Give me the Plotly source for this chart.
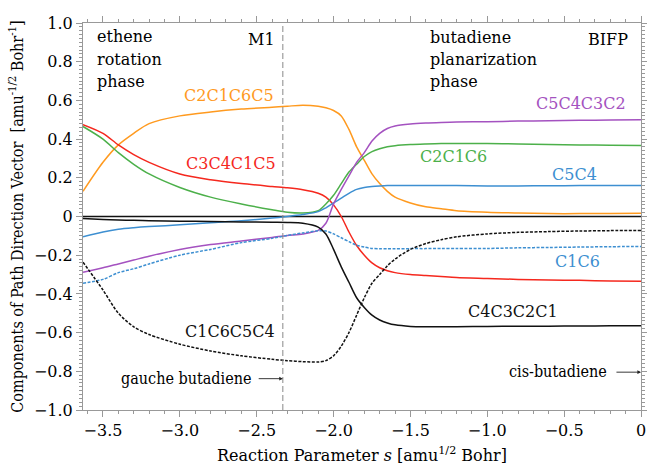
import plotly.graph_objects as go

# Reaction parameter grid (amu^1/2 Bohr)
s = [-3.63, -3.5, -3.4, -3.3, -3.2, -3.0, -2.8, -2.6, -2.4, -2.3, -2.2, -2.1, -2.05, -2.0,
     -1.95, -1.9, -1.85, -1.8, -1.75, -1.7, -1.65, -1.6, -1.5, -1.4, -1.3, -1.2, -1.0,
     -0.8, -0.6, -0.4, -0.2, 0.0]

c2c1c6c5 = [0.13, 0.28, 0.37, 0.43, 0.48, 0.52, 0.54, 0.555, 0.565, 0.57, 0.575, 0.57, 0.562, 0.548,
            0.52, 0.45, 0.36, 0.29, 0.22, 0.17, 0.13, 0.10, 0.07, 0.05, 0.04, 0.03, 0.022,
            0.018, 0.015, 0.015, 0.016, 0.017]
c3c4c1c5 = [0.475, 0.43, 0.37, 0.32, 0.28, 0.22, 0.19, 0.17, 0.155, 0.148, 0.138, 0.12, 0.10, 0.06,
            0.0, -0.08, -0.15, -0.20, -0.24, -0.265, -0.28, -0.29, -0.30, -0.305, -0.31, -0.315, -0.32,
            -0.325, -0.328, -0.33, -0.333, -0.335]
c2c1c6 = [0.465, 0.40, 0.33, 0.27, 0.22, 0.15, 0.10, 0.065, 0.035, 0.022, 0.018, 0.03, 0.065, 0.11,
          0.17, 0.23, 0.27, 0.31, 0.335, 0.35, 0.36, 0.366, 0.372, 0.375, 0.377, 0.377, 0.377,
          0.375, 0.372, 0.37, 0.368, 0.367]
c5c4 = [-0.105, -0.08, -0.066, -0.058, -0.052, -0.043, -0.032, -0.022, -0.008, 0.0, 0.01, 0.025, 0.045, 0.07,
        0.095, 0.12, 0.14, 0.15, 0.155, 0.158, 0.16, 0.16, 0.16, 0.16, 0.16, 0.16, 0.158,
        0.158, 0.159, 0.16, 0.16, 0.16]
c5c4c3c2 = [-0.288, -0.265, -0.245, -0.225, -0.205, -0.17, -0.145, -0.127, -0.108, -0.098, -0.09, -0.072, -0.035, 0.065,
            0.14, 0.21, 0.28, 0.33, 0.39, 0.43, 0.455, 0.468, 0.478, 0.483, 0.486, 0.488, 0.49,
            0.493, 0.495, 0.497, 0.499, 0.50]
c1c6 = [-0.345, -0.325, -0.29, -0.27, -0.245, -0.20, -0.17, -0.135, -0.113, -0.098, -0.085, -0.074, -0.075, -0.09,
        -0.11, -0.13, -0.148, -0.158, -0.165, -0.167, -0.167, -0.167, -0.166, -0.166, -0.165, -0.165, -0.165,
        -0.162, -0.16, -0.158, -0.156, -0.155]
c4c3c2c1 = [-0.01, -0.015, -0.018, -0.02, -0.022, -0.024, -0.026, -0.028, -0.03, -0.031, -0.035, -0.055, -0.09, -0.17,
            -0.26, -0.34, -0.42, -0.47, -0.51, -0.535, -0.55, -0.56, -0.568, -0.57, -0.57, -0.57, -0.568,
            -0.567, -0.567, -0.566, -0.565, -0.565]
c1c6c5c4 = [-0.236, -0.38, -0.50, -0.57, -0.61, -0.66, -0.695, -0.72, -0.738, -0.745, -0.75, -0.752, -0.745, -0.72,
            -0.67, -0.60, -0.51, -0.42, -0.345, -0.30, -0.255, -0.22, -0.17, -0.14, -0.12, -0.105, -0.09,
            -0.082, -0.078, -0.075, -0.073, -0.072]
zero_line = [0.0] * len(s)

m1_s = -2.33

x_ticks = [-3.5, -3.0, -2.5, -2.0, -1.5, -1.0, -0.5, 0.0]
x_ticktext = ["\u22123.5", "\u22123.0", "\u22122.5", "\u22122.0", "\u22121.5", "\u22121.0", "\u22120.5", "0"]
y_ticks = [1.0, 0.8, 0.6, 0.4, 0.2, 0.0, -0.2, -0.4, -0.6, -0.8, -1.0]
y_ticktext = ["1.0", "0.8", "0.6", "0.4", "0.2", "0", "\u22120.2", "\u22120.4", "\u22120.6", "\u22120.8", "\u22121.0"]

ORANGE = "#ff9a1f"
RED = "#f5281e"
GREEN = "#4cb04a"
BLUE = "#3d8fd1"
PURPLE = "#a452c0"
BLACK = "#111111"
FONT = "DejaVu Serif"
FONT_C = "DejaVu Serif Condensed, DejaVu Serif"

fig = go.Figure()

def add(y, color, dash="solid", width=1.5):
    fig.add_trace(go.Scatter(x=s, y=y, mode="lines", line=dict(color=color, width=width, dash=dash, shape="spline", smoothing=0.8),
                             showlegend=False, hoverinfo="skip"))

add(zero_line, BLACK, width=1.6)
add(c2c1c6c5, ORANGE)
add(c3c4c1c5, RED)
add(c2c1c6, GREEN)
add(c5c4, BLUE)
add(c5c4c3c2, PURPLE)
add(c1c6, BLUE, dash="3px,1.5px")
add(c4c3c2c1, BLACK)
add(c1c6c5c4, BLACK, dash="3px,1.5px")

fig.add_shape(type="line", x0=m1_s, x1=m1_s, y0=-1, y1=1, xref="x", yref="y",
              line=dict(color="#888888", width=1, dash="6px,3px"))

def ann(text, x, y, color="black", xanchor="left", size=16, family=FONT):
    fig.add_annotation(text=text, x=x, y=y, xref="x", yref="y", showarrow=False,
                       xanchor=xanchor, yanchor="middle", font=dict(family=family, size=size, color=color))

def px2s(px):
    return (px - 640.0) / 153.4

def py2y(py):
    return (216.0 - py) / 193.3

ann("ethene", px2s(95), py2y(36))
ann("rotation", px2s(95), py2y(59))
ann("phase", px2s(95), py2y(81))
ann("M1", px2s(277), py2y(39), xanchor="right")
ann("butadiene", px2s(427), py2y(37))
ann("planarization", px2s(427), py2y(59))
ann("phase", px2s(427), py2y(81))
ann("BIFP", px2s(629), py2y(39), xanchor="right")
ann("C2C1C6C5", px2s(182), py2y(95), ORANGE)
ann("C3C4C1C5", px2s(184), py2y(163), RED)
ann("C5C4C3C2", px2s(533), py2y(103), PURPLE)
ann("C2C1C6", px2s(417), py2y(156), GREEN)
ann("C5C4", px2s(549), py2y(174), BLUE)
ann("C1C6", px2s(552), py2y(261), BLUE)
ann("C4C3C2C1", px2s(465), py2y(311), BLACK)
ann("C1C6C5C4", px2s(183), py2y(331), BLACK)
ann("gauche butadiene", px2s(253), py2y(378), xanchor="right", size=16, family=FONT_C)
ann("cis-butadiene", px2s(608), py2y(371), xanchor="right", size=16, family=FONT_C)

# arrows
fig.add_annotation(x=m1_s, y=py2y(378), ax=px2s(257), ay=py2y(378), xref="x", yref="y", axref="x", ayref="y",
                   text="", showarrow=True, arrowhead=2, arrowsize=0.8, arrowwidth=0.9, arrowcolor="#222222")
fig.add_annotation(x=0.0, y=py2y(371.5), ax=px2s(614), ay=py2y(371.5), xref="x", yref="y", axref="x", ayref="y",
                   text="", showarrow=True, arrowhead=2, arrowsize=0.8, arrowwidth=0.9, arrowcolor="#222222")

axis_common = dict(showline=True, linecolor="#999999", linewidth=1, mirror="ticks", ticks="outside",
                   tickcolor="#999999", showgrid=False, zeroline=False, automargin=False,
                   tickfont=dict(family=FONT, size=16, color="black"))

fig.update_xaxes(range=[-3.63, 0.0], tickvals=x_ticks, ticktext=x_ticktext, ticklen=6,
                 minor=dict(dtick=0.1, tick0=0, ticklen=3, ticks="outside", tickcolor="#999999"),
                 title=dict(text="Reaction Parameter <i>s</i> [amu<sup>1/2</sup> Bohr]",
                            font=dict(family=FONT, size=16, color="black"), standoff=10),
                 **axis_common)
fig.update_yaxes(range=[-1.0, 1.0], tickvals=y_ticks, ticktext=y_ticktext, ticklen=6,
                 minor=dict(dtick=0.02, tick0=0, ticklen=3, ticks="outside", tickcolor="#999999"),
                 title=dict(text="Components of Path Direction Vector  [amu<sup>-1/2</sup> Bohr<sup>-1</sup>]",
                            font=dict(family=FONT_C, size=16, color="black"), standoff=6),
                 **axis_common)

fig.update_layout(width=647, height=466, margin=dict(l=83, r=6, t=23, b=56, autoexpand=False),
                  plot_bgcolor="white", paper_bgcolor="white", showlegend=False,
                  font=dict(family=FONT))

fig.write_html("out.html")
